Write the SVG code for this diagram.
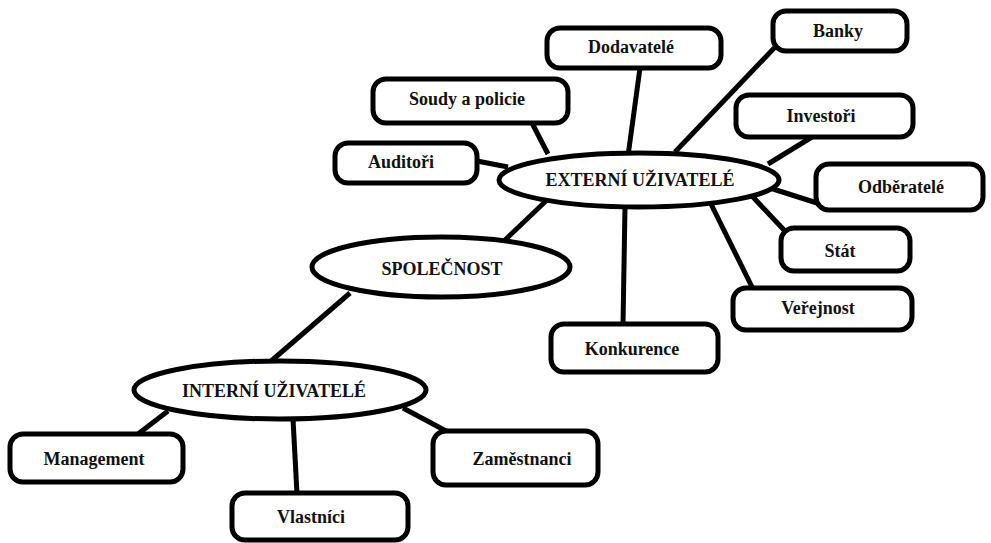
<svg xmlns="http://www.w3.org/2000/svg" width="991" height="543" viewBox="0 0 991 543">
<style>
.box{fill:#fff;stroke:#000;stroke-width:5}
.ell{fill:#fff;stroke:#000;stroke-width:5}
.con line{stroke:#000;stroke-width:5;stroke-linecap:butt}
.t{font-family:'Liberation Serif','DejaVu Serif',serif;font-weight:700;font-size:18px;fill:#111;text-anchor:middle}
</style>
<rect width="991" height="543" fill="#fff"/>
<g id="connectors" class="con">
<line x1="640" y1="68" x2="628" y2="156"/>
<line x1="532" y1="123" x2="548" y2="154"/>
<line x1="477" y1="161" x2="508" y2="167"/>
<line x1="778" y1="44" x2="675" y2="152"/>
<line x1="812" y1="137" x2="768" y2="164"/>
<line x1="770" y1="188" x2="817" y2="203"/>
<line x1="752" y1="196" x2="784" y2="230"/>
<line x1="711" y1="204" x2="753" y2="289"/>
<line x1="625" y1="207" x2="623" y2="325"/>
<line x1="547" y1="200" x2="505" y2="240"/>
<line x1="350" y1="293" x2="270" y2="362"/>
<line x1="168" y1="411" x2="138" y2="434"/>
<line x1="293" y1="419" x2="297" y2="494"/>
<line x1="403" y1="408" x2="448" y2="432"/>
</g>
<g id="externi"><ellipse class="ell" cx="639" cy="180" rx="140" ry="27"/><text class="t" x="640" y="186">EXTERNÍ UŽIVATELÉ</text></g>
<g id="spolecnost"><ellipse class="ell" cx="441" cy="267" rx="129" ry="30"/><text class="t" x="442" y="275">SPOLEČNOST</text></g>
<g id="interni"><ellipse class="ell" cx="280" cy="390" rx="146" ry="29"/><text class="t" x="274" y="397">INTERNÍ UŽIVATELÉ</text></g>
<g id="dodavatele"><rect class="box" x="547" y="28" width="174" height="40" rx="13"/><text class="t" x="631" y="53">Dodavatelé</text></g>
<g id="banky"><rect class="box" x="773" y="11" width="134" height="40" rx="13"/><text class="t" x="838" y="37">Banky</text></g>
<g id="soudy"><rect class="box" x="373" y="79" width="195" height="44" rx="13"/><text class="t" x="467" y="105">Soudy a policie</text></g>
<g id="auditori"><rect class="box" x="335" y="143" width="142" height="40" rx="13"/><text class="t" x="401" y="168">Auditoři</text></g>
<g id="investori"><rect class="box" x="736" y="95" width="177" height="42" rx="13"/><text class="t" x="821" y="122">Investoři</text></g>
<g id="odberatele"><rect class="box" x="816" y="164" width="167" height="46" rx="13"/><text class="t" x="901" y="193">Odběratelé</text></g>
<g id="stat"><rect class="box" x="781" y="228" width="129" height="43" rx="13"/><text class="t" x="840" y="257">Stát</text></g>
<g id="verejnost"><rect class="box" x="733" y="288" width="179" height="42" rx="13"/><text class="t" x="818" y="314">Veřejnost</text></g>
<g id="konkurence"><rect class="box" x="551" y="324" width="167" height="48" rx="13"/><text class="t" x="632" y="355">Konkurence</text></g>
<g id="management"><rect class="box" x="10" y="434" width="173" height="48" rx="13"/><text class="t" x="94" y="465">Management</text></g>
<g id="vlastnici"><rect class="box" x="232" y="493" width="176" height="47" rx="13"/><text class="t" x="311" y="523">Vlastníci</text></g>
<g id="zamestnanci"><rect class="box" x="433" y="431" width="165" height="54" rx="13"/><text class="t" x="522" y="465">Zaměstnanci</text></g>
</svg>
